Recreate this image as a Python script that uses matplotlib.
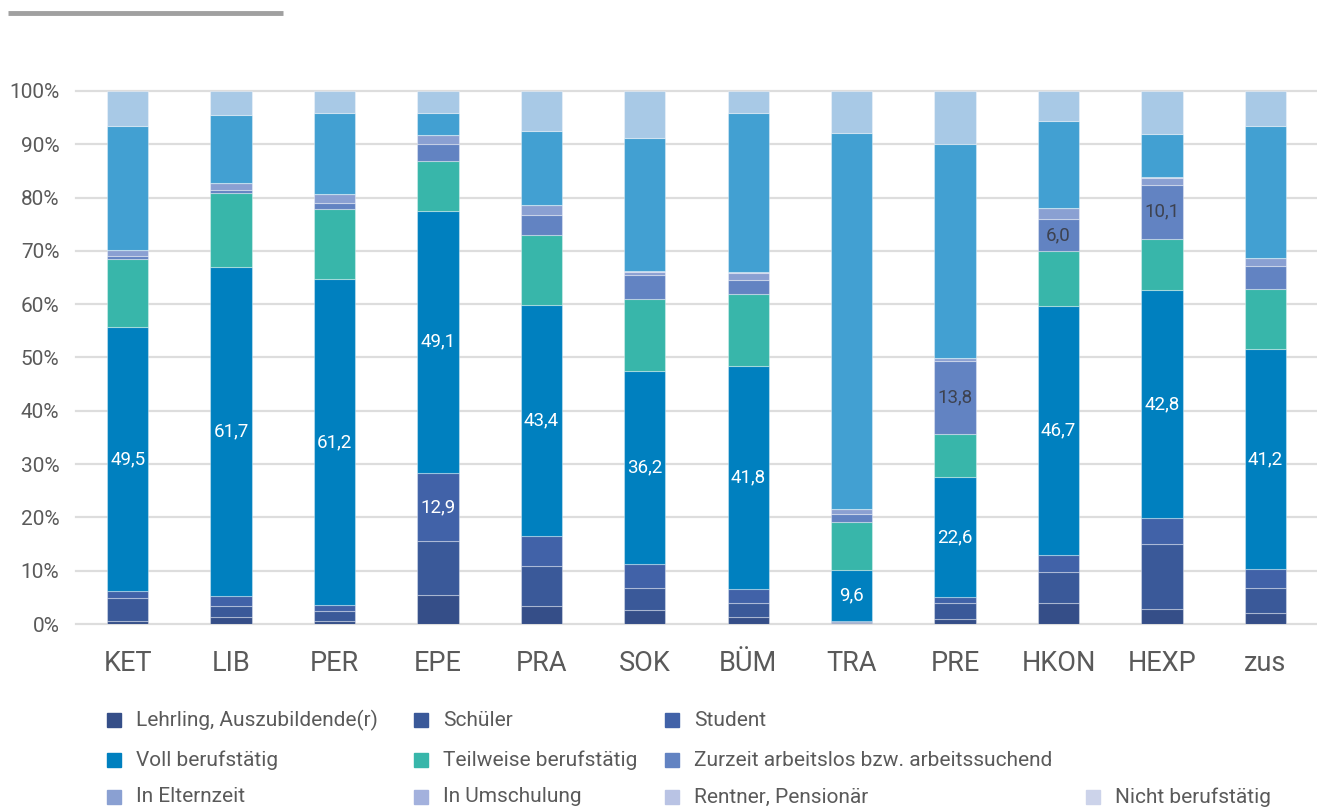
import numpy as np
import matplotlib.pyplot as plt
from matplotlib.patches import Rectangle
from matplotlib.lines import Line2D

plt.rcParams['font.family'] = ['Roboto', 'DejaVu Sans']

groups = ['KET', 'LIB', 'PER', 'EPE', 'PRA', 'SOK', 'BÜM', 'TRA', 'PRE', 'HKON', 'HEXP', 'zus']

# shares in percent, bottom to top
lehrling    = [0.5, 1.3, 0.5, 5.5, 3.4, 2.6, 1.4, 0.2, 0.9, 4.0, 2.9, 2.0]
schueler    = [4.3, 2.0, 1.9, 10.0, 7.4, 4.1, 2.6, 0.2, 3.1, 5.7, 12.1, 4.7]
student     = [1.4, 1.9, 1.1, 12.9, 5.7, 4.6, 2.6, 0.2, 1.0, 3.2, 4.9, 3.6]
voll        = [49.5, 61.7, 61.2, 49.1, 43.4, 36.2, 41.8, 9.6, 22.6, 46.7, 42.8, 41.2]
teilweise   = [12.7, 13.9, 13.1, 9.3, 13.0, 13.5, 13.5, 8.9, 8.0, 10.4, 9.6, 11.4]
arbeitslos  = [0.6, 0.6, 1.2, 3.3, 3.9, 4.4, 2.7, 1.6, 13.8, 6.0, 10.1, 4.3]
elternzeit  = [1.2, 1.3, 1.6, 1.6, 1.8, 0.6, 1.2, 0.8, 0.5, 2.0, 1.2, 1.4]
umschulung  = [0.0, 0.0, 0.0, 0.0, 0.0, 0.2, 0.2, 0.0, 0.0, 0.0, 0.3, 0.0]
rentner     = [0.0] * 12
nicht_beruf = [0.0] * 12
sonstige    = [23.2, 12.7, 15.3, 4.1, 13.8, 25.0, 29.8, 70.6, 40.2, 16.4, 8.1, 24.9]
keine_ang   = [6.6, 4.6, 4.1, 4.2, 7.6, 8.8, 4.2, 7.9, 9.9, 5.6, 8.0, 6.5]

series = [
    ('Lehrling, Auszubildende(r)', lehrling, '#354E88'),
    ('Schüler', schueler, '#3A5999'),
    ('Student', student, '#4162A8'),
    ('Voll berufstätig', voll, '#0080BF'),
    ('Teilweise berufstätig', teilweise, '#38B6AA'),
    ('Zurzeit arbeitslos bzw. arbeitssuchend', arbeitslos, '#6283C2'),
    ('In Elternzeit', elternzeit, '#8AA0D2'),
    ('In Umschulung', umschulung, '#A3B1DD'),
    ('Rentner, Pensionär', rentner, '#B9C3E4'),
    ('Nicht berufstätig', nicht_beruf, '#CCD3EA'),
    ('sonstige', sonstige, '#42A0D2'),
    ('keine Angabe', keine_ang, '#A8C9E6'),
]

# labelled segments: (series index, group index, text colour)
labels_shown = [
    (3, 0, 'white'), (3, 1, 'white'), (3, 2, 'white'), (3, 3, 'white'),
    (2, 3, 'white'), (3, 4, 'white'), (3, 5, 'white'), (3, 6, 'white'),
    (3, 7, 'white'), (3, 8, 'white'), (5, 8, '#3d4250'), (3, 9, 'white'),
    (5, 9, '#3d4250'), (3, 10, 'white'), (5, 10, '#3d4250'), (3, 11, 'white'),
]

fig = plt.figure(figsize=(13.17, 8.10), dpi=100)
ax = fig.add_axes([0.0577, 0.2296, 0.9423, 0.6581])

x = np.arange(len(groups))
bottom = np.zeros(len(groups))
bottoms = []
for name, vals, col in series:
    vals = np.array(vals)
    ax.bar(x, vals, 0.4, bottom=bottom, color=col,
           edgecolor=(1, 1, 1, 0.35), linewidth=0.8, zorder=3)
    bottoms.append(bottom.copy())
    bottom = bottom + vals

for si, gi, tc in labels_shown:
    v = series[si][1][gi]
    yc = bottoms[si][gi] + v / 2
    ax.text(x[gi], yc, f'{v:.1f}'.replace('.', ','), ha='center', va='center',
            fontsize=13.5, color=tc, zorder=5)

ax.set_xlim(-0.5, 11.5)
ax.set_ylim(0, 100)
ax.set_yticks(np.arange(0, 101, 10))
ax.set_yticklabels([f'{v}%' for v in range(0, 101, 10)], fontsize=15, color='#5a5a5a')
ax.set_xticks(x)
ax.set_xticklabels(groups, fontsize=19.5, color='#5a5a5a')
ax.tick_params(axis='both', length=0)
ax.tick_params(axis='y', pad=12)
ax.tick_params(axis='x', pad=19)
for sp in ax.spines.values():
    sp.set_visible(False)
ax.grid(axis='y', color='#dddddd', linewidth=1.6, zorder=0)
ax.set_axisbelow(True)
for gl in ax.get_ygridlines():
    gl.set_clip_on(False)

# grey bar at top left
fig.add_artist(Line2D([8 / 1317, 283 / 1317], [1 - 13 / 810, 1 - 13 / 810],
                      color='#a0a0a0', linewidth=3.5, solid_capstyle='butt'))

# legend
W, H = 1317, 810
legend_items = [
    (0, 107, 720), (1, 414, 720), (2, 665, 720),
    (3, 107, 760), (4, 414, 760), (5, 665, 760),
    (6, 107, 797), (7, 414, 797), (8, 665, 797), (9, 1086, 797),
]
for si, px, py in legend_items:
    name, _, col = series[si]
    fig.add_artist(Rectangle((px / W, 1 - (py + 7) / H), 14 / W, 14 / H,
                             transform=fig.transFigure, color=col))
    fig.text((px + 29) / W, 1 - py / H, name, fontsize=15, color='#5a5a5a',
             va='center', ha='left')

plt.savefig('out.png', dpi=100)
